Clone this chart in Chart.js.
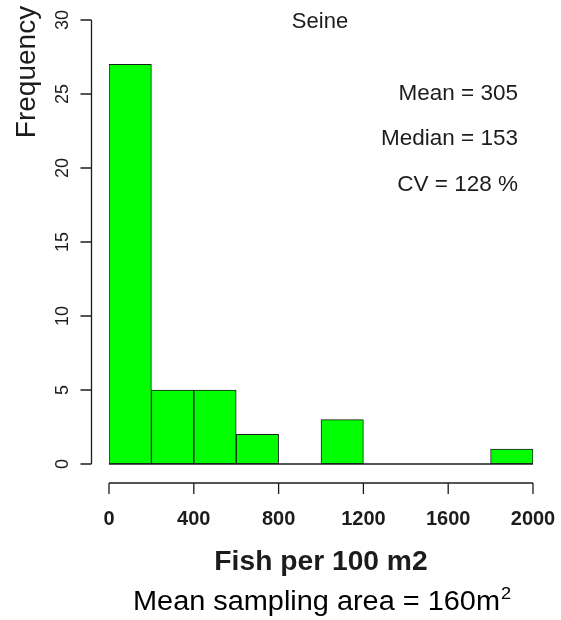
<!DOCTYPE html>
<html>
<head>
<meta charset="utf-8">
<script src="https://cdn.jsdelivr.net/npm/chart.js@4/dist/chart.umd.min.js"></script>
<style>
  html, body { margin: 0; padding: 0; background: #ffffff; }
  #wrap { width: 561px; height: 620px; }
</style>
</head>
<body>
<div id="wrap"><canvas id="c" width="561" height="620"></canvas></div>
<script>
// ---- data ----
const binStarts = [0, 200, 400, 600, 800, 1000, 1200, 1400, 1600, 1800];
const binWidth = 200;
const counts = [27, 5, 5, 2, 0, 3, 0, 0, 0, 1];
const xTicks = [0, 400, 800, 1200, 1600, 2000];
const yTicks = [0, 5, 10, 15, 20, 25, 30];
const titleText = "Seine";
const statLines = ["Mean = 305", "Median = 153", "CV = 128 %"];
const xTitle = "Fish per 100 m2";
const yTitle = "Frequency";
const footerText = "Mean sampling area = 160m";
const footerSup = "2";

const FONT = '"Liberation Sans", Arial, Helvetica, sans-serif';
const INK = '#1c1c1c';

const rPlugin = {
  id: 'rStyle',
  beforeDraw(chart) {
    const ctx = chart.ctx;
    ctx.save();
    ctx.fillStyle = '#ffffff';
    ctx.fillRect(0, 0, chart.width, chart.height);
    ctx.restore();
  },
  afterDatasetsDraw(chart) {
    const ctx = chart.ctx;
    const xs = chart.scales.x, ys = chart.scales.y;
    ctx.save();
    ctx.strokeStyle = INK;
    ctx.fillStyle = INK;
    ctx.lineWidth = 1.3;

    // baseline under histogram (empty bins)
    const y0 = ys.getPixelForValue(0);
    ctx.beginPath();
    ctx.moveTo(xs.getPixelForValue(binStarts[0]), y0);
    ctx.lineTo(xs.getPixelForValue(binStarts[binStarts.length - 1] + binWidth), y0);
    ctx.stroke();

    // y axis (detached)
    const ax = xs.getPixelForValue(0) - 17.5;
    ctx.beginPath();
    ctx.moveTo(ax, ys.getPixelForValue(yTicks[0]));
    ctx.lineTo(ax, ys.getPixelForValue(yTicks[yTicks.length - 1]));
    yTicks.forEach(t => {
      const py = ys.getPixelForValue(t);
      ctx.moveTo(ax - 11, py);
      ctx.lineTo(ax, py);
    });
    ctx.stroke();
    ctx.font = '18px ' + FONT;
    ctx.textAlign = 'center';
    ctx.textBaseline = 'alphabetic';
    yTicks.forEach(t => {
      const py = ys.getPixelForValue(t);
      ctx.save();
      ctx.translate(ax - 24, py);
      ctx.rotate(-Math.PI / 2);
      ctx.fillText(String(t), 0, 0);
      ctx.restore();
    });

    // x axis (detached)
    const ay = y0 + 19;
    ctx.beginPath();
    ctx.moveTo(xs.getPixelForValue(xTicks[0]), ay);
    ctx.lineTo(xs.getPixelForValue(xTicks[xTicks.length - 1]), ay);
    xTicks.forEach(t => {
      const px = xs.getPixelForValue(t);
      ctx.moveTo(px, ay);
      ctx.lineTo(px, ay + 11);
    });
    ctx.stroke();
    ctx.font = 'bold 20px ' + FONT;
    ctx.textAlign = 'center';
    ctx.textBaseline = 'middle';
    xTicks.forEach(t => {
      ctx.fillText(String(t), xs.getPixelForValue(t), 519);
    });

    // y title
    ctx.save();
    ctx.font = '28px ' + FONT;
    ctx.textAlign = 'center';
    ctx.textBaseline = 'alphabetic';
    ctx.translate(35, 72);
    ctx.rotate(-Math.PI / 2);
    ctx.fillText(yTitle, 0, 0);
    ctx.restore();

    // main title
    ctx.font = '22px ' + FONT;
    ctx.textAlign = 'center';
    ctx.textBaseline = 'middle';
    ctx.fillText(titleText, 320, 22);

    // stats
    ctx.font = '22.5px ' + FONT;
    ctx.textAlign = 'right';
    const statY = [94, 139, 185];
    statLines.forEach((s, i) => ctx.fillText(s, 518, statY[i]));

    // x title
    ctx.save();
    ctx.font = 'bold 27px ' + FONT;
    ctx.textAlign = 'center';
    ctx.textBaseline = 'alphabetic';
    ctx.translate(321, 570);
    ctx.scale(1.045, 1);
    ctx.fillText(xTitle, 0, 0);
    ctx.restore();

    // footer
    ctx.save();
    ctx.fillStyle = '#000000';
    ctx.font = '27px ' + FONT;
    ctx.textAlign = 'left';
    ctx.textBaseline = 'alphabetic';
    ctx.translate(133, 610);
    ctx.scale(1.07, 1);
    ctx.fillText(footerText, 0, 0);
    const w = ctx.measureText(footerText).width;
    ctx.font = '17px ' + FONT;
    ctx.fillText(footerSup, w + 1, -11);
    ctx.restore();

    ctx.restore();
  }
};

new Chart(document.getElementById('c'), {
  type: 'bar',
  data: {
    datasets: [{
      data: binStarts.map((s, i) => ({ x: s + binWidth / 2, y: counts[i] })),
      backgroundColor: '#00ff00',
      borderColor: '#1c1c1c',
      borderWidth: 1,
      borderSkipped: false,
      barPercentage: 1,
      categoryPercentage: 1
    }]
  },
  options: {
    responsive: false,
    animation: false,
    layout: { padding: { left: 109, right: 28, top: 20, bottom: 156 } },
    plugins: { legend: { display: false }, tooltip: { enabled: false }, title: { display: false } },
    scales: {
      x: { type: 'linear', min: 0, max: 2000, offset: false, display: false },
      y: { type: 'linear', min: 0, max: 30, display: false }
    }
  },
  plugins: [rPlugin]
});
</script>
</body>
</html>
